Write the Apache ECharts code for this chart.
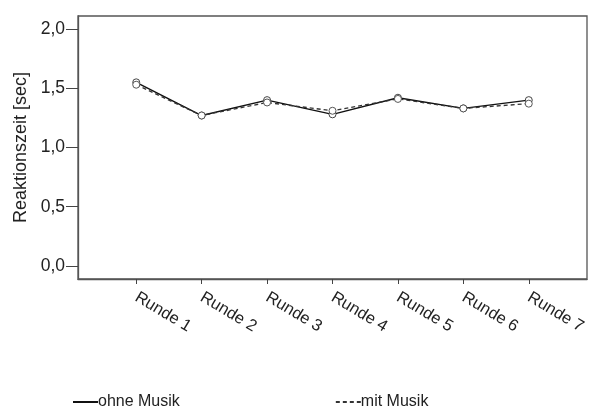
<!DOCTYPE html>
<html>
<head>
<meta charset="utf-8">
<script src="https://cdn.jsdelivr.net/npm/echarts@6/dist/echarts.min.js"></script>
<style>
html,body{margin:0;padding:0;background:#fff;}
#chart{width:600px;height:419px;}
</style>
</head>
<body>
<div id="chart"></div>
<script>
const categories = ['Runde 1','Runde 2','Runde 3','Runde 4','Runde 5','Runde 6','Runde 7'];
const ohneMusik = [1.55, 1.27, 1.40, 1.28, 1.42, 1.33, 1.40];
const mitMusik  = [1.53, 1.27, 1.38, 1.31, 1.41, 1.33, 1.37];
const yTicks = [0, 0.5, 1.0, 1.5, 2.0];
const xTicks = [1, 2, 3, 4, 5, 6, 7];

const FONT = '"Liberation Sans", Arial, sans-serif';
const TXT = '#222';

function pairs(arr){ return arr.map((v,i)=>[xTicks[i], v]); }

const chart = echarts.init(document.getElementById('chart'), null, {renderer:'canvas'});
chart.setOption({
  backgroundColor:'#fff',
  animation:false,
  grid:{left:78, right:13, top:16, bottom:140, show:true, borderColor:'#555', borderWidth:1.3, backgroundColor:'transparent'},
  xAxis:{
    type:'value', min:0.11, max:7.89,
    axisLine:{show:true, onZero:false, lineStyle:{color:'#555', width:1.3}},
    splitLine:{show:false},
    axisTick:{show:true, length:5, customValues:xTicks, lineStyle:{color:'#444'}},
    axisLabel:{
      customValues:xTicks, rotate:-31, margin:17,
      fontFamily:FONT, fontSize:16.5, color:TXT,
      formatter:function(v){ return categories[Math.round(v)-1] || ''; }
    }
  },
  yAxis:{
    type:'value', min:-0.11, max:2.11,
    name:'Reaktionszeit [sec]', nameLocation:'middle', nameGap:43,
    nameTextStyle:{fontFamily:FONT, fontSize:18, color:TXT},
    axisLine:{show:true, onZero:false, lineStyle:{color:'#555', width:1.3}},
    splitLine:{show:false},
    axisTick:{show:true, length:12, customValues:yTicks, lineStyle:{color:'#444'}},
    axisLabel:{
      customValues:yTicks, margin:13,
      fontFamily:FONT, fontSize:17.5, color:TXT,
      formatter:function(v){ return v.toFixed(1).replace('.', ','); }
    }
  },
  legend:{
    bottom:4, left:67, itemGap:155, itemWidth:25, itemHeight:12,
    textStyle:{fontFamily:FONT, fontSize:16, color:TXT, padding:[0,0,0,-5]},
    itemStyle:{color:'transparent', borderColor:'transparent', borderWidth:0},
    data:['ohne Musik','mit Musik']
  },
  series:[
    {
      name:'ohne Musik', type:'line', data:pairs(ohneMusik),
      symbol:'circle', symbolSize:7, showSymbol:true,
      lineStyle:{color:'#111', width:1.4, type:'solid'},
      itemStyle:{color:'#fff', borderColor:'#444', borderWidth:1}
    },
    {
      name:'mit Musik', type:'line', data:pairs(mitMusik),
      symbol:'circle', symbolSize:7, showSymbol:true,
      lineStyle:{color:'#333', width:1.3, type:[4,3]},
      itemStyle:{color:'#fff', borderColor:'#555', borderWidth:1}
    }
  ]
});
</script>
</body>
</html>
